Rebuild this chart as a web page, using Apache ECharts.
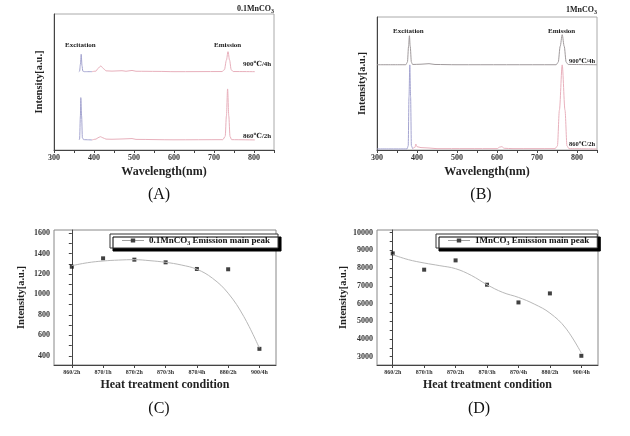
<!DOCTYPE html>
<html>
<head>
<meta charset="utf-8">
<script src="https://cdn.jsdelivr.net/npm/echarts@6/dist/echarts.min.js"></script>
<style>html,body{margin:0;padding:0;background:#fff;}#c{width:630px;height:436px;}</style>
</head>
<body>
<div id="c"></div>
<script>
// ---------- data ----------
const categories = ['860/2h','870/1h','870/2h','870/3h','870/4h','880/2h','900/4h'];
const wavelengthLabels = [300,400,500,600,700,800];
const wavelengthTicks = [300,350,400,450,500,550,600,650,700,750,800,850];

// Panel A (0.1MnCO3) spectra, [wavelength, intensity a.u.]
const aUpperExc = [[362,57.6],[364,58],[366,63],[368,70.4],[370,62],[372,58],[376,57.6],[395,57.6]];
const aUpperEm  = [[395,57.6],[405,58],[410,60],[417,61.8],[424,59.8],[430,58.2],[445,58],[470,58.3],[480,57.9],[495,58.5],[505,57.9],[560,57.8],[600,57.6],[720,57.7],[726,59],[731,66],[735,72.3],[739,66],[743,59],[748,57.7],[802,57.6]];
const aLowerExc = [[362,7.4],[364,8],[366,25],[367,38.5],[369,25],[371,9],[374,7.6],[395,7.4]];
const aLowerEm  = [[395,7.4],[405,8],[410,9],[416,9.8],[422,9],[430,8],[445,7.9],[470,8.1],[495,8.4],[505,7.8],[600,7.5],[722,7.6],[728,10],[731,25],[734,44.9],[737,25],[740,10],[744,7.6],[802,7.4]];

// Panel B (1MnCO3) spectra
const bUpper    = [[300,64.1],[372,64.1],[376,66],[379,78],[381,85.9],[383,78],[386,66],[389,64.3],[410,64.5],[430,64.9],[445,64.3],[500,64.1],[748,64.1],[753,66],[758,78],[763,86.7],[768,78],[773,66],[778,64.3],[850,64.1]];
const bLowerExc = [[300,0.8],[375,0.8],[378,3],[380,40],[382,64],[384,40],[386,3],[389,1]];
const bLowerEm  = [[389,1],[395,2],[397,4.5],[400,2.5],[410,1.8],[430,1.5],[450,1],[600,1],[607,2.2],[612,2.5],[618,1.3],[640,1],[745,1],[751,3],[756,30],[763,64],[770,30],[775,3],[780,1],[850,0.8]];

// Panel C / D emission main peak
const cValues = [1271,1353,1340,1314,1249,1246,468];
const dValues = [8830,7910,8435,7062,6062,6571,3050];
const fitPositions = [0,0.5,1,1.5,2,2.5,3,3.5,4,4.5,5,5.5,6];
const cFit = [1281,1310,1327,1336,1340,1330,1314,1288,1246,1158,1012,784,475];
const dFit = [8757,8475,8288,8136,7966,7588,7062,6627,6345,5972,5463,4616,3203];
const cTickLabels = [400,600,800,1000,1200,1400,1600];
const cTicks = [400,500,600,700,800,900,1000,1100,1200,1300,1400,1500,1600];
const dTickLabels = [3000,4000,5000,6000,7000,8000,9000,10000];
const dTicks = [3000,3500,4000,4500,5000,5500,6000,6500,7000,7500,8000,8500,9000,9500,10000];

// ---------- chart ----------
const SERIF = '"Liberation Serif", "DejaVu Serif", serif';
const idx = [0,1,2,3,4,5,6];
const pairs = (xs, ys) => xs.map((x,i)=>[x, ys[i]]);

function specX(g){
  return {gridIndex:g, type:'value', min:300, max:850,
    axisLine:{show:true,lineStyle:{color:'#444',width:1}},
    axisTick:{show:true, customValues:wavelengthTicks, length:3, lineStyle:{color:'#444'}},
    axisLabel:{customValues:wavelengthLabels, formatter:v=>String(v), fontSize:8, fontWeight:'bold', fontFamily:SERIF, color:'#333', margin:4},
    splitLine:{show:false},
    name:'Wavelength(nm)', nameLocation:'middle', nameGap:16,
    nameTextStyle:{fontSize:12, fontWeight:'bold', fontFamily:SERIF, color:'#222'}};
}
function specY(g, gap){
  return {gridIndex:g, type:'value', min:0, max:100,
    axisLine:{show:true,lineStyle:{color:'#444',width:1}},
    axisTick:{show:false}, axisLabel:{show:false}, splitLine:{show:false},
    name:'Intensity[a.u.]', nameLocation:'middle', nameGap:gap,
    nameTextStyle:{fontSize:10.5, fontWeight:'bold', fontFamily:SERIF, color:'#222'}};
}
function catX(g, min, max){
  return {gridIndex:g, type:'value', min:min, max:max,
    axisLine:{show:true,lineStyle:{color:'#444',width:1}},
    axisTick:{show:true, customValues:idx, length:3, lineStyle:{color:'#444'}},
    axisLabel:{customValues:idx, formatter:v=>categories[Math.round(v)], fontSize:6, fontWeight:'bold', fontFamily:SERIF, color:'#333', margin:4},
    splitLine:{show:false},
    name:'Heat treatment condition', nameLocation:'middle', nameGap:14,
    nameTextStyle:{fontSize:12, fontWeight:'bold', fontFamily:SERIF, color:'#222'}};
}
function valY(g, min, max, labels, ticks, gap){
  return {gridIndex:g, type:'value', min:min, max:max,
    axisLine:{show:true,lineStyle:{color:'#444',width:1}},
    axisTick:{show:true, customValues:ticks, length:3, lineStyle:{color:'#444'}},
    axisLabel:{customValues:labels, formatter:v=>String(v), fontSize:8, fontWeight:'bold', fontFamily:SERIF, color:'#333', margin:4},
    splitLine:{show:false},
    name:'Intensity[a.u.]', nameLocation:'middle', nameGap:gap,
    nameTextStyle:{fontSize:10.5, fontWeight:'bold', fontFamily:SERIF, color:'#222'}};
}
function specLine(g, data, color){
  return {type:'line', xAxisIndex:g, yAxisIndex:g, data:data, showSymbol:false, smooth:0.3, smoothMonotone:'x',
    lineStyle:{color:color,width:1}, itemStyle:{color:color}, silent:true};
}
const EXC = '#a4a4d0', EM = '#e8b0bc';

function legendFor(name, left, top){
  return {show:true, left:left, top:top, orient:'horizontal',
    data:[{name:name, icon:'path://M0,3.6H30V4.4H0Z M12,1.2H18V6.8H12Z'}],
    itemWidth:22, itemHeight:7, itemGap:4,
    padding:[2,8,2,12], backgroundColor:'#fff', borderColor:'#333', borderWidth:1,
    shadowColor:'#000', shadowBlur:0, shadowOffsetX:3, shadowOffsetY:3,
    formatter: n => n.replace('MnCO3','MnCO{s|3}'),
    textStyle:{fontSize:9, fontWeight:'bold', fontFamily:SERIF, color:'#111',
      rich:{s:{fontSize:6, fontWeight:'bold', fontFamily:SERIF, padding:[5,0,0,0]}}}};
}
function txt(x, y, text, size, align){
  return {type:'text', x:x, y:y, silent:true,
    style:{text:text, font:'bold '+size+'px '+SERIF, fill:'#222', align:align||'left', verticalAlign:'middle'}};
}
function plain(x, y, text){
  return {type:'text', x:x, y:y, silent:true,
    style:{text:text, font:'16px '+SERIF, fill:'#111', align:'center', verticalAlign:'middle'}};
}
function sub(x, y, text, align){
  return {type:'text', x:x, y:y, silent:true,
    style:{text:text, font:'bold 8px '+SERIF, fill:'#222', align:align, verticalAlign:'middle',
      rich:{s:{font:'bold 6px '+SERIF, fill:'#222', padding:[5,0,0,0]}}}};
}

const chart = echarts.init(document.getElementById('c'), null, {renderer:'canvas'});
chart.setOption({
  animation:false,
  backgroundColor:'#fff',
  grid:[
    {left:54, top:14, width:220, height:136, show:true, borderColor:'#aaa', borderWidth:1},
    {left:377, top:17, width:220, height:133, show:true, borderColor:'#aaa', borderWidth:1},
    {left:54, top:230, width:222, height:135, show:true, borderColor:'#888', borderWidth:1},
    {left:377, top:230, width:221, height:135, show:true, borderColor:'#888', borderWidth:1}
  ],
  xAxis:[specX(0), specX(1), catX(2,-0.57,6.53), catX(3,-0.5,6.53)],
  yAxis:[specY(0,9), specY(1,9), valY(2,310,1630,cTickLabels,cTicks,27), valY(3,2530,10150,dTickLabels,dTicks,28)],
  legend:[legendFor('0.1MnCO3 Emission main peak',110,234), legendFor('1MnCO3 Emission main peak',436,234)],
  series:[
    specLine(0, aUpperEm, EM), specLine(0, aUpperExc, EXC),
    specLine(0, aLowerEm, EM), specLine(0, aLowerExc, EXC),
    specLine(1, bLowerEm, EM), specLine(1, bLowerExc, EXC),
    specLine(1, bUpper, '#a09a9c'),
    {type:'line', xAxisIndex:2, yAxisIndex:2, data:pairs(fitPositions,cFit), showSymbol:false, smooth:0.4,
      lineStyle:{color:'#b8b8b8',width:1}, silent:true},
    {name:'0.1MnCO3 Emission main peak', type:'scatter', xAxisIndex:2, yAxisIndex:2, data:pairs(idx,cValues),
      symbol:'rect', symbolSize:4, itemStyle:{color:'#111'}},
    {type:'line', xAxisIndex:3, yAxisIndex:3, data:pairs(fitPositions,dFit), showSymbol:false, smooth:0.4,
      lineStyle:{color:'#b8b8b8',width:1}, silent:true},
    {name:'1MnCO3 Emission main peak', type:'scatter', xAxisIndex:3, yAxisIndex:3, data:pairs(idx,dValues),
      symbol:'rect', symbolSize:4, itemStyle:{color:'#111'}}
  ],
  graphic:[
    sub(274, 9, '0.1MnCO{s|3}', 'right'),
    txt(65, 45, 'Excitation', 7), txt(214, 45, 'Emission', 7),
    txt(243, 64, '900℃/4h', 7), txt(243, 136, '860℃/2h', 7),
    sub(597, 10, '1MnCO{s|3}', 'right'),
    txt(393, 31, 'Excitation', 7), txt(548, 31, 'Emission', 7),
    txt(569, 61, '900℃/4h', 6.5), txt(569, 144, '860℃/2h', 6.5),
    plain(159, 195, '(A)'), plain(481, 195, '(B)'),
    plain(159, 409, '(C)'), plain(479, 409, '(D)')
  ]
});
</script>
</body>
</html>
